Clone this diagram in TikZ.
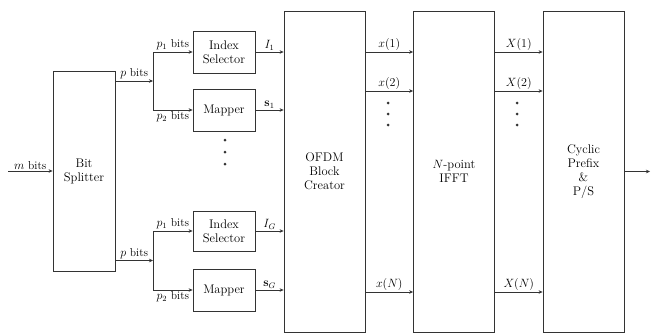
\documentclass[tikz,border=0pt]{standalone}
\usetikzlibrary{arrows.meta}
\begin{document}
\begin{tikzpicture}[x=1pt, y=-1pt,
    font=\rmfamily\fontsize{12.5}{14}\selectfont,
    blk/.style={draw=black!80, line width=0.8pt, align=center, inner sep=0pt, minimum width=62pt},
    big/.style={blk, minimum width=81pt, minimum height=321pt},
    sig/.style={draw=black!80, line width=0.6pt, -{Stealth[length=4pt,width=3.5pt]}},
    lbl/.style={font=\rmfamily\fontsize{11.5}{13}\selectfont, inner sep=1.5pt},
    dot/.style={circle, fill=black!80, inner sep=0pt, minimum size=3pt}]
    \useasboundingbox (0,0) rectangle (652,333);

    % splitter and branch points
    \coordinate (in) at (8,171);
    \coordinate (br1) at (153,81);
    \coordinate (br2) at (153,260.5);
    \coordinate (r1) at (0,52);
    \coordinate (r2) at (0,91);
    \coordinate (rN) at (0,292);
    \coordinate (out) at (650,171.5);

    \node[blk, minimum height=200pt] (split) at (84,171) {Bit\\Splitter};

    % index selector / mapper groups
    \node[blk, minimum height=42pt] (sel1) at (224,52) {Index\\Selector};
    \node[blk, minimum height=42pt] (map1) at (224,110) {Mapper};
    \node[blk, minimum height=40pt] (sel2) at (224,231) {Index\\Selector};
    \node[blk, minimum height=42pt] (map2) at (224,290) {Mapper};

    \node[big] (ofdm) at (324.5,171.5) {OFDM\\Block\\Creator};
    \node[big] (ifft) at (454,171.5) {$N$-point\\IFFT};
    \node[big] (cp) at (583.5,171.5) {Cyclic\\Prefix\\\&\\P/S};

    \draw[sig] (in) -- node[lbl, above]{$m$ bits} (in -| split.west);

    \draw[sig] (split.east |- br1) -- node[lbl, above]{$p$ bits} (br1);
    \draw[sig] (split.east |- br2) -- node[lbl, above]{$p$ bits} (br2);
    \draw[sig] (br1) |- node[lbl, above, pos=0.75]{$p_1$ bits} (sel1.west);
    \draw[sig] (br1) |- node[lbl, below, pos=0.75]{$p_2$ bits} (map1.west);
    \draw[sig] (br2) |- node[lbl, above, pos=0.75]{$p_1$ bits} (sel2.west);
    \draw[sig] (br2) |- node[lbl, below, pos=0.75]{$p_2$ bits} (map2.west);

    \draw[sig] (sel1.east) -- node[lbl, above]{$I_1$} (sel1.east -| ofdm.west);
    \draw[sig] (map1.east) -- node[lbl, above]{$\mathbf{s}_1$} (map1.east -| ofdm.west);
    \draw[sig] (sel2.east) -- node[lbl, above]{$I_G$} (sel2.east -| ofdm.west);
    \draw[sig] (map2.east) -- node[lbl, above]{$\mathbf{s}_G$} (map2.east -| ofdm.west);

    \draw[sig] (ofdm.east |- r1) -- node[lbl, above]{$x(1)$} (ifft.west |- r1);
    \draw[sig] (ofdm.east |- r2) -- node[lbl, above]{$x(2)$} (ifft.west |- r2);
    \draw[sig] (ofdm.east |- rN) -- node[lbl, above]{$x(N)$} (ifft.west |- rN);

    \draw[sig] (ifft.east |- r1) -- node[lbl, above]{$X(1)$} (cp.west |- r1);
    \draw[sig] (ifft.east |- r2) -- node[lbl, above]{$X(2)$} (cp.west |- r2);
    \draw[sig] (ifft.east |- rN) -- node[lbl, above]{$X(N)$} (cp.west |- rN);

    \draw[sig] (cp.east |- out) -- (out);

    % vertical dots
    \foreach \y in {140,152,164} {
        \node[dot] at (225,\y) {};
    }
    \foreach \y in {103,114,125} {
        \node[dot] at (388,\y) {};
        \node[dot] at (517,\y) {};
    }
\end{tikzpicture}
\end{document}
